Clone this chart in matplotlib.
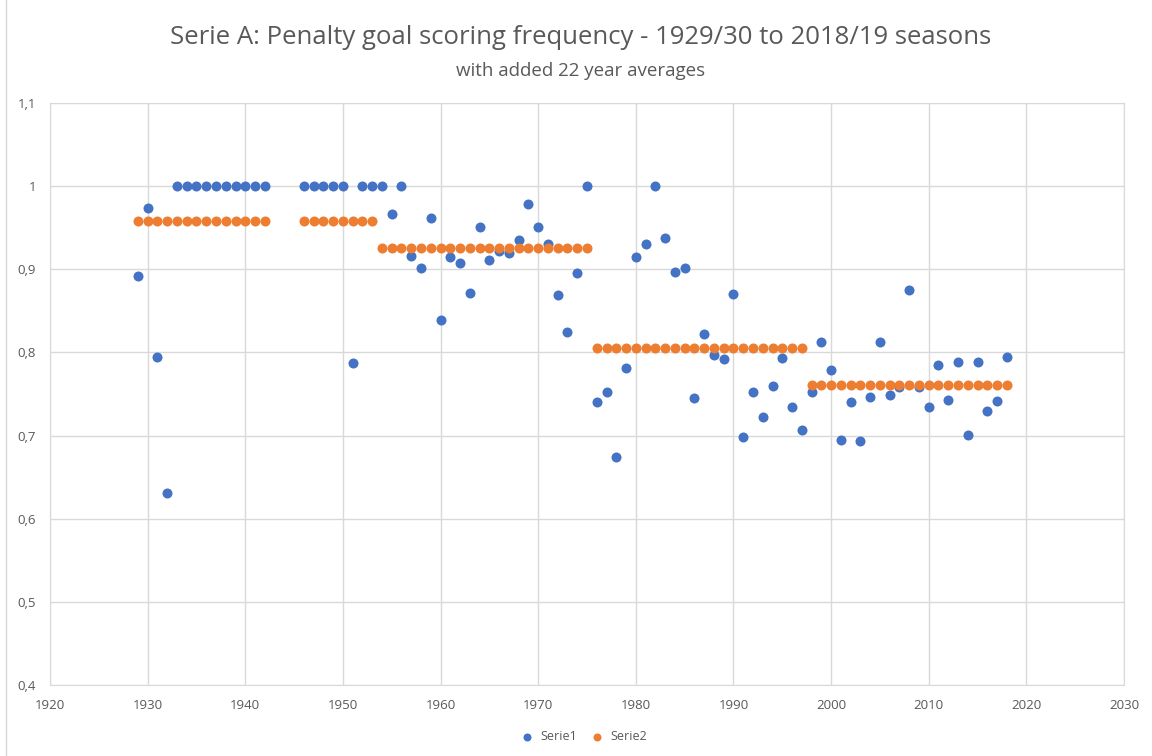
import numpy as np
import matplotlib
matplotlib.use('Agg')
import matplotlib.pyplot as plt
from matplotlib.lines import Line2D

# Serie1: frequenza per stagione (anno di inizio)
anni_s1 = [1929, 1930, 1931, 1932] + list(range(1933, 1943)) + list(range(1946, 1951)) + \
    [1951, 1952, 1953, 1954] + list(range(1955, 2019))
valori_s1 = [0.892, 0.974, 0.795, 0.631] + [1.0] * 10 + [1.0] * 5 + \
    [0.787, 1.0, 1.0, 1.0,
     0.966, 1.0, 0.916, 0.901, 0.962, 0.839, 0.915, 0.908, 0.872, 0.951,
     0.911, 0.922, 0.919, 0.935, 0.979, 0.951, 0.930, 0.869, 0.825, 0.895,
     1.0, 0.740, 0.753, 0.674, 0.781, 0.915, 0.931, 1.0, 0.938, 0.897,
     0.902, 0.745, 0.822, 0.797, 0.792, 0.870, 0.698, 0.753, 0.722, 0.760,
     0.793, 0.734, 0.707, 0.752, 0.813, 0.779, 0.695, 0.740, 0.693, 0.746,
     0.812, 0.749, 0.759, 0.875, 0.759, 0.734, 0.785, 0.743, 0.789, 0.701,
     0.788, 0.730, 0.742, 0.795]

# Serie2: medie su 22 anni
anni_s2 = list(range(1929, 1943)) + list(range(1946, 1954)) + list(range(1954, 1976)) + \
    list(range(1976, 1998)) + list(range(1998, 2019))
valori_s2 = [0.958] * 14 + [0.958] * 8 + [0.925] * 22 + [0.805] * 22 + [0.761] * 21

ytick_vals = [0.4, 0.5, 0.6, 0.7, 0.8, 0.9, 1.0, 1.1]
ytick_labels = ['0,4', '0,5', '0,6', '0,7', '0,8', '0,9', '1', '1,1']
xtick_vals = list(range(1920, 2031, 10))

grigio = '#595959'
griglia = '#d9d9d9'

plt.rcParams['font.family'] = ['Open Sans', 'DejaVu Sans']

fig = plt.figure(figsize=(11.52, 7.56), dpi=100)
ax = fig.add_axes([50 / 1152, 1 - 685 / 756, (1124 - 50) / 1152, (685 - 103) / 756])

ax.scatter(anni_s1, valori_s1, s=52, color='#4472C4', label='Serie1', zorder=3, linewidths=0)
ax.scatter(anni_s2, valori_s2, s=52, color='#ED7D31', label='Serie2', zorder=3, linewidths=0)

ax.set_xlim(1920, 2030)
ax.set_ylim(0.4, 1.1)
ax.set_xticks(xtick_vals)
ax.set_yticks(ytick_vals)
ax.set_yticklabels(ytick_labels)
ax.tick_params(colors=grigio, labelsize=9.5, length=0, pad=10)
ax.grid(True, color=griglia, linewidth=1)
ax.set_axisbelow(True)
for sp in ax.spines.values():
    sp.set_color(griglia)

fig.text(581 / 1152, 1 - 38 / 756, 'Serie A: Penalty goal scoring frequency - 1929/30 to 2018/19 seasons',
         ha='center', va='center', fontsize=18.5, color=grigio)
fig.text(581 / 1152, 1 - 71 / 756, 'with added 22 year averages',
         ha='center', va='center', fontsize=13.5, color=grigio)

leg = fig.legend(loc='center', bbox_to_anchor=(581 / 1152, 1 - 737 / 756), ncol=2, frameon=False,
                 fontsize=9, handletextpad=0.05, columnspacing=0.6, markerscale=0.8)
for t in leg.get_texts():
    t.set_color(grigio)

fig.add_artist(Line2D([6 / 1152, 6 / 1152], [0, 1], color=griglia, linewidth=1))

plt.savefig('out.png', dpi=100)
